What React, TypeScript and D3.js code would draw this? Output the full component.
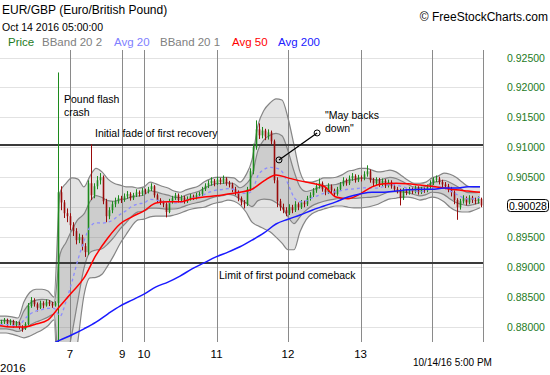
import React from 'react';
import * as d3 from 'd3';

// hourly bars, weekend hours removed; bar 0 opens early Oct 6
const closes = [
  0.8808, 0.8812, 0.8806, 0.8810, 0.8803, 0.8807, 0.8800, 0.8797, 0.8805, 0.8835,
  0.8845, 0.8838, 0.8832, 0.8840, 0.8836, 0.8842, 0.8839, 0.8836, 0.8840, 0.9025,
  0.9008, 0.8990, 0.8985, 0.8970, 0.8960, 0.8945, 0.8950, 0.8935, 0.8925, 0.9040,
  0.9020, 0.9035, 0.9045, 0.9050, 0.9010, 0.8985, 0.8995, 0.9005, 0.9010, 0.9015,
  0.9012, 0.9018, 0.9022, 0.9015, 0.9020, 0.9025, 0.9022, 0.9028, 0.9026, 0.9030,
  0.9035, 0.9020, 0.9012, 0.9008, 0.9005, 0.8992, 0.9010, 0.9015, 0.9020, 0.9012,
  0.9016, 0.9010, 0.9014, 0.9018, 0.9016, 0.9020, 0.9022, 0.9030, 0.9036, 0.9040,
  0.9044, 0.9040, 0.9046, 0.9042, 0.9048, 0.9040, 0.9038, 0.9030, 0.9025, 0.9015,
  0.9008, 0.9005, 0.9030, 0.9060, 0.9100, 0.9130, 0.9120, 0.9128, 0.9118, 0.9125,
  0.9110, 0.9045, 0.9010, 0.9000, 0.8995, 0.8990, 0.9000, 0.8995, 0.9005, 0.9000,
  0.9008, 0.9005, 0.9015, 0.9020, 0.9028, 0.9035, 0.9040, 0.9030, 0.9025, 0.9035,
  0.9028, 0.9022, 0.9030, 0.9038, 0.9045, 0.9040, 0.9048, 0.9052, 0.9045, 0.9050,
  0.9048, 0.9055, 0.9060, 0.9045, 0.9040, 0.9046, 0.9038, 0.9044, 0.9036, 0.9042,
  0.9035, 0.9030, 0.9028, 0.9015, 0.9028, 0.9024, 0.9030, 0.9026, 0.9032, 0.9025,
  0.9030, 0.9028, 0.9034, 0.9040, 0.9046, 0.9048, 0.9042, 0.9038, 0.9035, 0.9030,
  0.9025, 0.9012, 0.9000, 0.9010, 0.9015, 0.9008, 0.9016, 0.9012, 0.9010, 0.9014,
  0.9003,
];
const highs = [
  0.8812, 0.8815, 0.8814, 0.8813, 0.8812, 0.8810, 0.8809, 0.8803, 0.8808, 0.8840,
  0.8850, 0.8848, 0.8841, 0.8844, 0.8843, 0.8846, 0.8845, 0.8842, 0.8843, 0.9225,
  0.9035, 0.9012, 0.8998, 0.8990, 0.8975, 0.8965, 0.8956, 0.8954, 0.8940, 0.9045,
  0.9105, 0.9040, 0.9052, 0.9057, 0.9053, 0.9014, 0.9000, 0.9010, 0.9016, 0.9020,
  0.9019, 0.9023, 0.9027, 0.9025, 0.9024, 0.9030, 0.9028, 0.9032, 0.9031, 0.9034,
  0.9040, 0.9037, 0.9023, 0.9015, 0.9011, 0.9008, 0.9014, 0.9019, 0.9024, 0.9023,
  0.9020, 0.9019, 0.9018, 0.9022, 0.9021, 0.9024, 0.9026, 0.9034, 0.9040, 0.9045,
  0.9050, 0.9047, 0.9051, 0.9049, 0.9053, 0.9050, 0.9044, 0.9041, 0.9034, 0.9028,
  0.9018, 0.9012, 0.9034, 0.9065, 0.9106, 0.9145, 0.9140, 0.9134, 0.9131, 0.9130,
  0.9128, 0.9113, 0.9050, 0.9014, 0.9006, 0.9000, 0.9005, 0.9004, 0.9010, 0.9008,
  0.9012, 0.9011, 0.9019, 0.9025, 0.9032, 0.9040, 0.9048, 0.9043, 0.9034, 0.9040,
  0.9038, 0.9031, 0.9034, 0.9042, 0.9050, 0.9048, 0.9053, 0.9057, 0.9055, 0.9054,
  0.9053, 0.9060, 0.9070, 0.9063, 0.9049, 0.9050, 0.9049, 0.9048, 0.9047, 0.9046,
  0.9045, 0.9038, 0.9034, 0.9031, 0.9032, 0.9031, 0.9034, 0.9033, 0.9036, 0.9035,
  0.9034, 0.9033, 0.9038, 0.9045, 0.9050, 0.9053, 0.9051, 0.9046, 0.9042, 0.9039,
  0.9034, 0.9028, 0.9015, 0.9014, 0.9020, 0.9018, 0.9020, 0.9019, 0.9016, 0.9018,
  0.9016,
];
const lows = [
  0.8803, 0.8805, 0.8802, 0.8803, 0.8799, 0.8800, 0.8796, 0.8792, 0.8795, 0.8803,
  0.8832, 0.8834, 0.8826, 0.8830, 0.8831, 0.8834, 0.8835, 0.8832, 0.8834, 0.8750,
  0.8995, 0.8982, 0.8975, 0.8962, 0.8952, 0.8938, 0.8940, 0.8928, 0.8917, 0.8920,
  0.9012, 0.9015, 0.9030, 0.9038, 0.9005, 0.8975, 0.8980, 0.8990, 0.9000, 0.9006,
  0.9007, 0.9009, 0.9014, 0.9011, 0.9012, 0.9017, 0.9018, 0.9019, 0.9022, 0.9023,
  0.9027, 0.9016, 0.9008, 0.9004, 0.9000, 0.8983, 0.8990, 0.9006, 0.9012, 0.9008,
  0.9009, 0.9006, 0.9007, 0.9011, 0.9012, 0.9013, 0.9017, 0.9019, 0.9027, 0.9032,
  0.9036, 0.9035, 0.9037, 0.9038, 0.9039, 0.9036, 0.9033, 0.9025, 0.9020, 0.9010,
  0.9003, 0.8998, 0.9002, 0.9027, 0.9055, 0.9096, 0.9114, 0.9115, 0.9112, 0.9113,
  0.9105, 0.9040, 0.9000, 0.8994, 0.8990, 0.8985, 0.8987, 0.8990, 0.8992, 0.8995,
  0.8997, 0.9000, 0.9002, 0.9011, 0.9017, 0.9024, 0.9031, 0.9026, 0.9020, 0.9022,
  0.9023, 0.9017, 0.9019, 0.9027, 0.9035, 0.9036, 0.9037, 0.9044, 0.9041, 0.9042,
  0.9043, 0.9045, 0.9051, 0.9041, 0.9035, 0.9037, 0.9034, 0.9035, 0.9032, 0.9033,
  0.9031, 0.9026, 0.9023, 0.9003, 0.9012, 0.9020, 0.9021, 0.9022, 0.9023, 0.9021,
  0.9022, 0.9024, 0.9025, 0.9031, 0.9037, 0.9042, 0.9038, 0.9033, 0.9030, 0.9025,
  0.9018, 0.9005, 0.8979, 0.8996, 0.9006, 0.9003, 0.9005, 0.9007, 0.9005, 0.9006,
  0.9000,
];
const firstOpen = 0.8806;

// BBand 20 2 outer lines, one value every 2 bars
const bandUpper = [
  0.8818, 0.8818, 0.8817, 0.8815, 0.8842, 0.8858, 0.8863, 0.8863, 0.8860, 0.8850,
  0.9025, 0.9040, 0.9049, 0.9047, 0.9034, 0.9052, 0.9065, 0.9059, 0.9047, 0.9040,
  0.9037, 0.9034, 0.9034, 0.9032, 0.9034, 0.9042, 0.9039, 0.9035, 0.9032, 0.9027,
  0.9025, 0.9029, 0.9032, 0.9035, 0.9042, 0.9047, 0.9050, 0.9050, 0.9050, 0.9049,
  0.9042, 0.9054, 0.9079, 0.9137, 0.9162, 0.9174, 0.9181, 0.9179, 0.9149, 0.9104,
  0.9059, 0.9042, 0.9042, 0.9045, 0.9049, 0.9049, 0.9050, 0.9054, 0.9060, 0.9062,
  0.9065, 0.9065, 0.9062, 0.9059, 0.9060, 0.9062, 0.9059, 0.9052, 0.9045, 0.9040,
  0.9040, 0.9042, 0.9049, 0.9052, 0.9057, 0.9055, 0.9050, 0.9042, 0.9035, 0.9034,
  0.9034,
];
const bandLower = [
  0.8790, 0.8790, 0.8788, 0.8785, 0.8782, 0.8785, 0.8790, 0.8795, 0.8802, 0.8812,
  0.8611, 0.8645, 0.8703, 0.8778, 0.8853, 0.8882, 0.8883, 0.8888, 0.8903, 0.8920,
  0.8939, 0.8954, 0.8969, 0.8979, 0.8980, 0.8984, 0.8985, 0.8985, 0.8985, 0.8987,
  0.8990, 0.8994, 0.8997, 0.8999, 0.9000, 0.9004, 0.9007, 0.9009, 0.9012, 0.9010,
  0.9004, 0.8992, 0.8975, 0.8969, 0.8964, 0.8959, 0.8950, 0.8940, 0.8929, 0.8929,
  0.8959, 0.8979, 0.8989, 0.8994, 0.8997, 0.9000, 0.9002, 0.9002, 0.9000, 0.8999,
  0.8999, 0.9000, 0.9002, 0.9005, 0.9010, 0.9014, 0.9015, 0.9017, 0.9017, 0.9015,
  0.9012, 0.9014, 0.9017, 0.9015, 0.9009, 0.9000, 0.8994, 0.8992, 0.8992, 0.8995,
  0.8999,
];

// Avg 50, one value every 4 bars from bar 0
const avg50 = [
  0.8802, 0.8800, 0.8800, 0.8805, 0.8812, 0.8835, 0.8858, 0.8882, 0.8920, 0.8949,
  0.8972, 0.8984, 0.8994, 0.9007, 0.9009, 0.9009, 0.9014, 0.9017, 0.9019, 0.9022,
  0.9025, 0.9030, 0.9044, 0.9054, 0.9049, 0.9044, 0.9040, 0.9035, 0.9017, 0.9014,
  0.9022, 0.9034, 0.9039, 0.9040, 0.9039, 0.9037, 0.9035, 0.9032, 0.9029, 0.9027,
  0.9025,
];
// Avg 200, one value every 4 bars from bar 16
const avg200 = [
  0.8768, 0.8778, 0.8787, 0.8797, 0.8808, 0.8822, 0.8835, 0.8845, 0.8855, 0.8867,
  0.8875, 0.8885, 0.8897, 0.8907, 0.8917, 0.8925, 0.8934, 0.8945, 0.8957, 0.8972,
  0.8980, 0.8987, 0.8995, 0.9002, 0.9009, 0.9017, 0.9022, 0.9025, 0.9025, 0.9027,
  0.9029, 0.9030, 0.9030, 0.9032, 0.9032, 0.9034, 0.9034,
];

const priceTicks = [0.88, 0.885, 0.89, 0.895, 0.9, 0.905, 0.91, 0.915, 0.92, 0.925];
const dayHours = [23.3, 40.7, 48, 72.2, 96, 120.2, 144, 161];
const dayLabels = ['7', '9', '10', '11', '12', '13', '', ''];
const levels = [0.9104, 0.8907];
const lastPrice = 0.90028;

const legend = [
  { text: 'Price', x: 8, color: '#1e7b1e' },
  { text: 'BBand 20 2', x: 42, color: '#808080' },
  { text: 'Avg 20', x: 114, color: '#8080ff' },
  { text: 'BBand 20 1', x: 160, color: '#808080' },
  { text: 'Avg 50', x: 232, color: '#ff0000' },
  { text: 'Avg 200', x: 278, color: '#2020ff' },
];

const font = 'Liberation Sans, Arial, sans-serif';
const plot = { left: 0, right: 483, top: 50, bottom: 342 };

export default function App() {
  const x = d3.scaleLinear().domain([0, 161]).range([plot.left, plot.right]);
  const y = d3.scaleLinear().domain([0.88, 0.925]).range([327, 57.5]);

  const bars = closes.map((c, i) => ({
    i,
    o: i === 0 ? firstOpen : closes[i - 1],
    c,
    h: highs[i],
    l: lows[i],
  }));

  const bands = bandUpper.map((u, k) => {
    const l = bandLower[k];
    const mid = (u + l) / 2;
    const sd = (u - l) / 4;
    return { h: k * 2, u, l, mid, iu: mid + sd, il: mid - sd };
  });

  const area = (top: string, bot: string) =>
    d3.area<any>()
      .x((d) => x(d.h))
      .y0((d) => y(d[bot]))
      .y1((d) => y(d[top]))
      .curve(d3.curveMonotoneX)(bands) as string;

  const line = (key: string) =>
    d3.line<any>()
      .x((d) => x(d.h))
      .y((d) => y(d[key]))
      .curve(d3.curveMonotoneX)(bands) as string;

  const avgLine = (vals: number[], start: number) =>
    d3.line<number>()
      .x((_, k) => x(start + k * 4))
      .y((d) => y(d))
      .curve(d3.curveMonotoneX)(vals) as string;

  // annotation for "May backs down"
  const noteFrom = { h: 93, v: 0.9079 };
  const noteTo = { h: 105.7, v: 0.9124 };

  // the last-price box takes the place of the nearest tick label
  const shownTicks = priceTicks.filter((v) => Math.abs(y(v) - y(lastPrice)) > 12);

  return (
    <svg width={550} height={375} style={{ position: 'absolute', left: 0, top: 0, background: '#fff' }}>
      <defs>
        <clipPath id="plotclip">
          <rect x={plot.left} y={plot.top} width={plot.right - plot.left} height={plot.bottom - plot.top} />
        </clipPath>
      </defs>

      <text x={2} y={14} fontFamily={font} fontSize={12}>EUR/GBP (Euro/British Pound)</text>
      <text x={2} y={31} fontFamily={font} fontSize={10.5}>Oct 14 2016 05:00:00</text>
      <text x={548} y={21} fontFamily={font} fontSize={12} textAnchor="end">© FreeStockCharts.com</text>
      {legend.map((d) => (
        <text key={d.text} x={d.x} y={46} fontFamily={font} fontSize={11.5} fill={d.color}>{d.text}</text>
      ))}

      {priceTicks.map((v) => (
        <line key={v} x1={plot.left} x2={plot.right} y1={Math.round(y(v)) + 0.5} y2={Math.round(y(v)) + 0.5} stroke="#e2e2e2" />
      ))}
      {shownTicks.map((v) => (
        <text key={v} x={507} y={y(v) + 4} fontFamily={font} fontSize={10.5} fill="#1e7b1e">{d3.format('.5f')(v)}</text>
      ))}
      {dayHours.map((h, k) => (
        <g key={h}>
          <line x1={Math.round(x(h)) + 0.5} x2={Math.round(x(h)) + 0.5} y1={plot.top} y2={plot.bottom} stroke="#8a8a8a" />
          {dayLabels[k] && (
            <text x={x(h)} y={358} fontFamily={font} fontSize={11.5} textAnchor="middle">{dayLabels[k]}</text>
          )}
        </g>
      ))}
      <text x={0} y={372} fontFamily={font} fontSize={11.5}>2016</text>
      <text x={413} y={366} fontFamily={font} fontSize={10}>10/14/16 5:00 PM</text>

      <g clipPath="url(#plotclip)">
        <path d={area('u', 'l')} fill="#808080" fillOpacity={0.22} />
        <path d={area('iu', 'il')} fill="#808080" fillOpacity={0.22} />
        {['u', 'l', 'iu', 'il'].map((k) => (
          <path key={k} d={line(k)} fill="none" stroke="#858585" strokeWidth={1.2} />
        ))}

        {levels.map((v) => (
          <line key={v} x1={plot.left} x2={plot.right} y1={y(v)} y2={y(v)} stroke="#3a3a3a" strokeWidth={2} />
        ))}

        {bars.map((b) => {
          const up = b.c >= b.o;
          const col = up ? '#1c8a1c' : '#990b0b';
          const cx = x(b.i + 0.5);
          const top = y(Math.max(b.o, b.c));
          const bot = y(Math.min(b.o, b.c));
          return (
            <g key={b.i}>
              <line x1={cx} x2={cx} y1={y(b.h)} y2={y(b.l)} stroke={col} strokeWidth={1} />
              <rect x={cx - 0.8} y={top} width={1.6} height={Math.max(1, bot - top)} fill={col} />
            </g>
          );
        })}

        <path d={line('mid')} fill="none" stroke="#8c8cff" strokeWidth={1.3} strokeDasharray="3,3" />
        <path d={avgLine(avg50, 0)} fill="none" stroke="#ff0000" strokeWidth={1.5} />
        <path d={avgLine(avg200, 16)} fill="none" stroke="#1a1aff" strokeWidth={1.5} />
      </g>

      <text fontFamily={font} fontSize={10.5}>
        <tspan x={64} y={103}>Pound flash</tspan>
        <tspan x={64} y={116}>crash</tspan>
      </text>
      <text x={95} y={137} fontFamily={font} fontSize={10.5}>Initial fade of first recovery</text>
      <text x={219} y={279} fontFamily={font} fontSize={10.5}>Limit of first pound comeback</text>
      <text fontFamily={font} fontSize={10.5}>
        <tspan x={325} y={119}>"May backs</tspan>
        <tspan x={325} y={132}>down"</tspan>
      </text>
      <line x1={x(noteFrom.h)} y1={y(noteFrom.v)} x2={x(noteTo.h)} y2={y(noteTo.v)} stroke="#000" strokeWidth={1.3} />
      <circle cx={x(noteFrom.h)} cy={y(noteFrom.v)} r={3} fill="none" stroke="#000" />
      <circle cx={x(noteTo.h)} cy={y(noteTo.v)} r={3} fill="none" stroke="#000" />

      <rect x={507.5} y={y(lastPrice) - 6} width={41} height={12} rx={3} fill="#fff" stroke="#000" />
      <text x={509} y={y(lastPrice) + 4} fontFamily={font} fontSize={10.5}>{d3.format('.5f')(lastPrice)}</text>
    </svg>
  );
}
